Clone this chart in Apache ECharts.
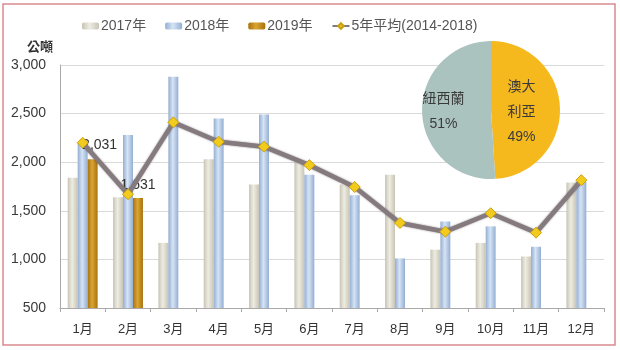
<!DOCTYPE html>
<html>
<head>
<meta charset="utf-8">
<script src="https://cdn.jsdelivr.net/npm/echarts@6/dist/echarts.min.js"></script>
<style>
  html, body { margin: 0; padding: 0; background: #fff; }
  #chart { width: 620px; height: 350px; }
</style>
</head>
<body>
<div id="chart"></div>
<script>
// Monthly volumes (公噸)
var months = ['1月', '2月', '3月', '4月', '5月', '6月', '7月', '8月', '9月', '10月', '11月', '12月'];
var y2017 = [1840, 1640, 1170, 2030, 1770, 2000, 1770, 1870, 1100, 1170, 1030, 1790];
var y2018 = [2200, 2280, 2880, 2450, 2490, 1870, 1660, 1010, 1390, 1340, 1130, 1800];
var y2019 = [2031, 1631, null, null, null, null, null, null, null, null, null, null];
var avg5 = [2200, 1670, 2410, 2210, 2160, 1970, 1745, 1375, 1285, 1475, 1275, 1815];
var yTicks = { min: 500, max: 3000, step: 500 };

// Origin share
var shareNames = ['澳大\n利亞', '紐西蘭'];
var shareValues = [49, 51];

var FONT = "'Liberation Sans', 'Noto Sans CJK TC', sans-serif";

function barGrad(edge, mid) {
  return new echarts.graphic.LinearGradient(0, 0, 1, 0, [
    { offset: 0, color: edge },
    { offset: 0.45, color: mid },
    { offset: 1, color: edge }
  ]);
}

function fmt(v) {
  return String(v).replace(/\B(?=(\d{3})+(?!\d))/g, ',');
}

// 2019 values with their label placement
var y2019Items = y2019.map(function (v, i) {
  if (v == null) return null;
  var item = { value: v };
  if (i === 0) item.label = { offset: [7, -1] };
  return item;
});

var chart = echarts.init(document.getElementById('chart'));
chart.setOption({
  backgroundColor: '#ffffff',
  textStyle: { fontFamily: FONT },
  graphic: [{
    type: 'rect',
    shape: { x: 3, y: 4, width: 612, height: 341 },
    style: { fill: 'none', stroke: '#d98a8e', lineWidth: 1.5 },
    silent: true
  }],
  legend: {
    top: 14,
    left: 77,
    itemWidth: 17,
    itemHeight: 7,
    itemGap: 19,
    textStyle: { fontSize: 14, color: '#555', fontFamily: FONT, padding: [0, 0, 0, -3] },
    data: ['2017年', '2018年', '2019年', '5年平均(2014-2018)']
  },
  grid: { left: 60, right: 16, top: 65, bottom: 42 },
  xAxis: {
    type: 'category',
    data: months,
    axisLine: { lineStyle: { color: '#a9a9a9' } },
    axisTick: { show: true, length: 4, lineStyle: { color: '#a9a9a9' } },
    axisLabel: { fontSize: 13, color: '#333', margin: 15 }
  },
  yAxis: {
    type: 'value',
    name: '公噸',
    nameLocation: 'end',
    nameGap: 11,
    nameTextStyle: { fontSize: 13, fontWeight: 'bold', color: '#333', align: 'right', padding: [0, 7, 0, 0] },
    min: yTicks.min,
    max: yTicks.max,
    interval: yTicks.step,
    axisLine: { show: true, lineStyle: { color: '#a9a9a9' } },
    axisTick: { show: false },
    axisLabel: { fontSize: 14, color: '#3a3a3a', margin: 14, formatter: fmt },
    splitLine: { lineStyle: { color: '#d9d9d9' } }
  },
  series: [
    {
      name: '2017年',
      type: 'bar',
      data: y2017,
      barGap: '0%',
      barCategoryGap: '34%',
      itemStyle: { color: barGrad('#c8c5b6', '#eeebe2') }
    },
    {
      name: '2018年',
      type: 'bar',
      data: y2018,
      itemStyle: { color: barGrad('#94aed2', '#d6e4f5') }
    },
    {
      name: '2019年',
      type: 'bar',
      data: y2019Items,
      itemStyle: { color: barGrad('#a8720e', '#dba433') },
      label: {
        show: true,
        position: 'top',
        distance: 6,
        fontSize: 14,
        color: '#333',
        formatter: function (p) { return fmt(p.value); }
      }
    },
    {
      name: '5年平均(2014-2018)',
      type: 'line',
      data: avg5,
      symbol: 'diamond',
      symbolSize: 11,
      lineStyle: {
        color: '#857a7e',
        width: 4.5,
        shadowColor: 'rgba(60,50,55,0.6)',
        shadowBlur: 2
      },
      itemStyle: { color: '#f3cb1c', borderColor: '#c9a010', borderWidth: 1 },
      z: 5
    },
    {
      name: 'share',
      type: 'pie',
      center: [491, 110],
      radius: [0, 69],
      startAngle: 90,
      clockwise: true,
      silent: true,
      label: {
        show: true,
        position: 'inside',
        fontSize: 14,
        lineHeight: 25,
        color: '#3a3a3a',
        formatter: function (p) { return p.name + '\n' + p.value + '%'; }
      },
      labelLine: { show: false },
      data: [
        { name: shareNames[0], value: shareValues[0], itemStyle: { color: '#f6b91d' }, label: { offset: [-7, 3] } },
        { name: shareNames[1], value: shareValues[1], itemStyle: { color: '#abc3bf' }, label: { offset: [-10, 0] } }
      ],
      z: 10
    }
  ]
});
</script>
</body>
</html>
